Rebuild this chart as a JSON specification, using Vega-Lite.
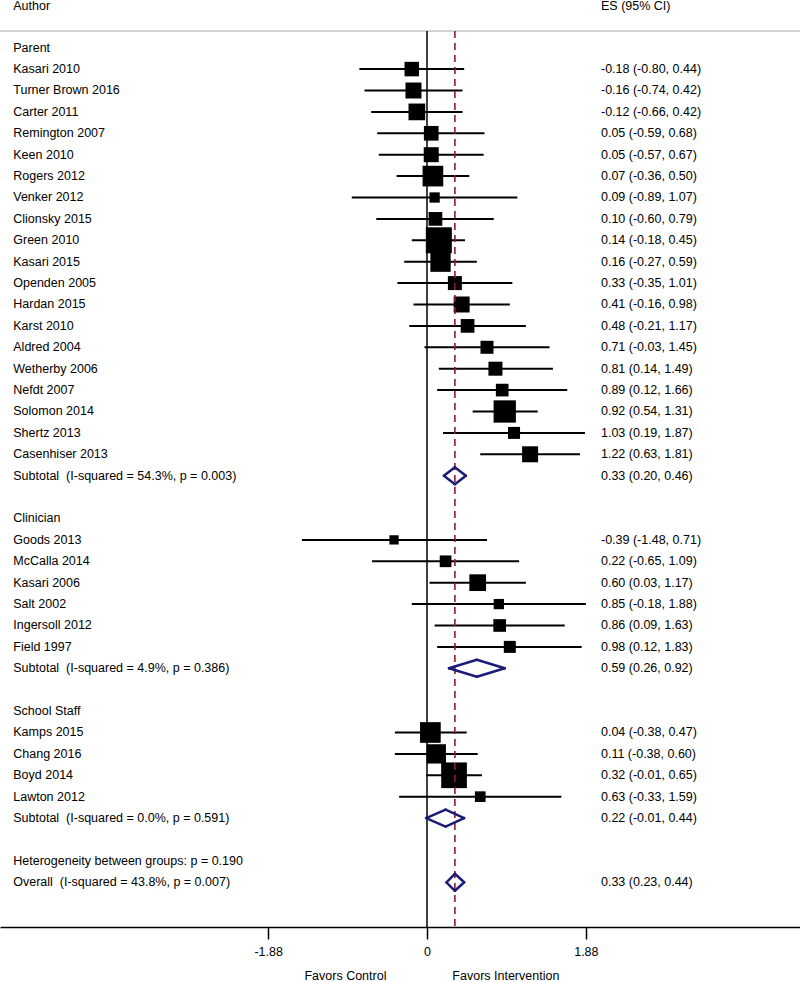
{
  "$schema": "https://vega.github.io/schema/vega-lite/v6.json",
  "width": 800,
  "height": 927,
  "autosize": {"type": "none"},
  "padding": {"left": 0, "top": 0, "right": 0, "bottom": 55},
  "background": "white",
  "config": {"view": {"stroke": null}},
  "resolve": {"axis": {"x": "independent", "y": "independent"}},
  "data": {
    "values": [
      {"row": -1.94, "type": "header", "label": "Author", "ci": "ES (95% CI)"},
      {"row": 0, "type": "group", "label": "Parent"},
      {"row": 1, "type": "study", "label": "Kasari 2010", "es": -0.18, "lo": -0.80, "hi": 0.44, "weight": 2.78, "ci": "-0.18 (-0.80, 0.44)"},
      {"row": 2, "type": "study", "label": "Turner Brown 2016", "es": -0.16, "lo": -0.74, "hi": 0.42, "weight": 3.39, "ci": "-0.16 (-0.74, 0.42)"},
      {"row": 3, "type": "study", "label": "Carter 2011", "es": -0.12, "lo": -0.66, "hi": 0.42, "weight": 3.70, "ci": "-0.12 (-0.66, 0.42)"},
      {"row": 4, "type": "study", "label": "Remington 2007", "es": 0.05, "lo": -0.59, "hi": 0.68, "weight": 2.86, "ci": "0.05 (-0.59, 0.68)"},
      {"row": 5, "type": "study", "label": "Keen 2010", "es": 0.05, "lo": -0.57, "hi": 0.67, "weight": 2.98, "ci": "0.05 (-0.57, 0.67)"},
      {"row": 6, "type": "study", "label": "Rogers 2012", "es": 0.07, "lo": -0.36, "hi": 0.50, "weight": 5.67, "ci": "0.07 (-0.36, 0.50)"},
      {"row": 7, "type": "study", "label": "Venker 2012", "es": 0.09, "lo": -0.89, "hi": 1.07, "weight": 1.40, "ci": "0.09 (-0.89, 1.07)"},
      {"row": 8, "type": "study", "label": "Clionsky 2015", "es": 0.10, "lo": -0.60, "hi": 0.79, "weight": 2.49, "ci": "0.10 (-0.60, 0.79)"},
      {"row": 9, "type": "study", "label": "Green 2010", "es": 0.14, "lo": -0.18, "hi": 0.45, "weight": 8.96, "ci": "0.14 (-0.18, 0.45)"},
      {"row": 10, "type": "study", "label": "Kasari 2015", "es": 0.16, "lo": -0.27, "hi": 0.59, "weight": 5.46, "ci": "0.16 (-0.27, 0.59)"},
      {"row": 11, "type": "study", "label": "Openden 2005", "es": 0.33, "lo": -0.35, "hi": 1.01, "weight": 2.60, "ci": "0.33 (-0.35, 1.01)"},
      {"row": 12, "type": "study", "label": "Hardan 2015", "es": 0.41, "lo": -0.16, "hi": 0.98, "weight": 3.39, "ci": "0.41 (-0.16, 0.98)"},
      {"row": 13, "type": "study", "label": "Karst 2010", "es": 0.48, "lo": -0.21, "hi": 1.17, "weight": 2.49, "ci": "0.48 (-0.21, 1.17)"},
      {"row": 14, "type": "study", "label": "Aldred 2004", "es": 0.71, "lo": -0.03, "hi": 1.45, "weight": 2.24, "ci": "0.71 (-0.03, 1.45)"},
      {"row": 15, "type": "study", "label": "Wetherby 2006", "es": 0.81, "lo": 0.14, "hi": 1.49, "weight": 2.60, "ci": "0.81 (0.14, 1.49)"},
      {"row": 16, "type": "study", "label": "Nefdt 2007", "es": 0.89, "lo": 0.12, "hi": 1.66, "weight": 2.13, "ci": "0.89 (0.12, 1.66)"},
      {"row": 17, "type": "study", "label": "Solomon 2014", "es": 0.92, "lo": 0.54, "hi": 1.31, "weight": 6.59, "ci": "0.92 (0.54, 1.31)"},
      {"row": 18, "type": "study", "label": "Shertz 2013", "es": 1.03, "lo": 0.19, "hi": 1.87, "weight": 1.91, "ci": "1.03 (0.19, 1.87)"},
      {"row": 19, "type": "study", "label": "Casenhiser 2013", "es": 1.22, "lo": 0.63, "hi": 1.81, "weight": 3.39, "ci": "1.22 (0.63, 1.81)"},
      {"row": 20, "type": "subtotal", "label": "Subtotal\u00a0 (I-squared = 54.3%, p = 0.003)", "es": 0.33, "lo": 0.20, "hi": 0.46, "ci": "0.33 (0.20, 0.46)"},
      {"row": 22, "type": "group", "label": "Clinician"},
      {"row": 23, "type": "study", "label": "Goods 2013", "es": -0.39, "lo": -1.48, "hi": 0.71, "weight": 1.14, "ci": "-0.39 (-1.48, 0.71)"},
      {"row": 24, "type": "study", "label": "McCalla 2014", "es": 0.22, "lo": -0.65, "hi": 1.09, "weight": 1.82, "ci": "0.22 (-0.65, 1.09)"},
      {"row": 25, "type": "study", "label": "Kasari 2006", "es": 0.60, "lo": 0.03, "hi": 1.17, "weight": 3.70, "ci": "0.60 (0.03, 1.17)"},
      {"row": 26, "type": "study", "label": "Salt 2002", "es": 0.85, "lo": -0.18, "hi": 1.88, "weight": 1.40, "ci": "0.85 (-0.18, 1.88)"},
      {"row": 27, "type": "study", "label": "Ingersoll 2012", "es": 0.86, "lo": 0.09, "hi": 1.63, "weight": 2.13, "ci": "0.86 (0.09, 1.63)"},
      {"row": 28, "type": "study", "label": "Field 1997", "es": 0.98, "lo": 0.12, "hi": 1.83, "weight": 1.91, "ci": "0.98 (0.12, 1.83)"},
      {"row": 29, "type": "subtotal", "label": "Subtotal\u00a0 (I-squared = 4.9%, p = 0.386)", "es": 0.59, "lo": 0.26, "hi": 0.92, "ci": "0.59 (0.26, 0.92)"},
      {"row": 31, "type": "group", "label": "School Staff"},
      {"row": 32, "type": "study", "label": "Kamps 2015", "es": 0.04, "lo": -0.38, "hi": 0.47, "weight": 5.67, "ci": "0.04 (-0.38, 0.47)"},
      {"row": 33, "type": "study", "label": "Chang 2016", "es": 0.11, "lo": -0.38, "hi": 0.60, "weight": 4.93, "ci": "0.11 (-0.38, 0.60)"},
      {"row": 34, "type": "study", "label": "Boyd 2014", "es": 0.32, "lo": -0.01, "hi": 0.65, "weight": 8.75, "ci": "0.32 (-0.01, 0.65)"},
      {"row": 35, "type": "study", "label": "Lawton 2012", "es": 0.63, "lo": -0.33, "hi": 1.59, "weight": 1.51, "ci": "0.63 (-0.33, 1.59)"},
      {"row": 36, "type": "subtotal", "label": "Subtotal\u00a0 (I-squared = 0.0%, p = 0.591)", "es": 0.22, "lo": -0.01, "hi": 0.44, "ci": "0.22 (-0.01, 0.44)"},
      {"row": 38, "type": "note", "label": "Heterogeneity between groups: p = 0.190"},
      {"row": 39, "type": "overall", "label": "Overall\u00a0 (I-squared = 43.8%, p = 0.007)", "es": 0.33, "lo": 0.23, "hi": 0.44, "ci": "0.33 (0.23, 0.44)"}
    ]
  },
  "layer": [
    {
      "transform": [{"filter": "datum.type == 'study'"}],
      "mark": {"type": "rule", "color": "black", "strokeWidth": 2},
      "encoding": {
        "x": {
          "field": "lo", "type": "quantitative",
          "scale": {"domain": [-5.053, 4.414], "nice": false, "zero": false},
          "axis": {
            "values": [-1.88, 0, 1.88],
            "labelExpr": "toString(datum.value)",
            "grid": false,
            "domainColor": "black", "domainWidth": 1.5,
            "tickColor": "black", "tickWidth": 1.5, "tickSize": 12,
            "labelPadding": 6, "labelFont": "Liberation Sans", "labelFontSize": 12.5,
            "labelColor": "black", "title": null
          }
        },
        "x2": {"field": "hi"},
        "y": {
          "field": "row", "type": "quantitative", "axis": null,
          "scale": {"domain": [-2.229, 41.09], "reverse": true, "nice": false, "zero": false}
        }
      }
    },
    {
      "data": {"values": [{}]},
      "mark": {"type": "rule", "color": "#a8a8a8", "strokeWidth": 1.2},
      "encoding": {"y": {"datum": -0.78, "type": "quantitative", "axis": null}}
    },
    {
      "data": {"values": [{}]},
      "mark": {"type": "rule", "color": "black", "strokeWidth": 1.5},
      "encoding": {
        "x": {"datum": 0, "type": "quantitative", "axis": null},
        "y": {"datum": -0.78, "type": "quantitative", "axis": null},
        "y2": {"datum": 41.09}
      }
    },
    {
      "transform": [{"filter": "datum.type == 'study'"}],
      "mark": {"type": "square", "color": "black", "filled": true, "opacity": 1},
      "encoding": {
        "x": {"field": "es", "type": "quantitative", "axis": null},
        "y": {"field": "row", "type": "quantitative", "axis": null},
        "size": {"field": "weight", "type": "quantitative", "legend": null, "scale": {"domain": [0, 10], "range": [0, 754.6]}}
      }
    },
    {
      "transform": [{"filter": "datum.type == 'overall'"}],
      "mark": {"type": "rule", "color": "#8b1c2c", "strokeWidth": 1.6, "strokeDash": [7, 5]},
      "encoding": {
        "x": {"field": "es", "type": "quantitative", "axis": null},
        "y": {"datum": -0.78, "type": "quantitative", "axis": null},
        "y2": {"datum": 41.09}
      }
    },
    {
      "transform": [{"filter": "datum.type == 'subtotal' || datum.type == 'overall'"}],
      "mark": {"type": "rule", "color": "#1c1c78", "strokeWidth": 2.5, "strokeCap": "round", "y2Offset": -8.5},
      "encoding": {
        "x": {"field": "lo", "type": "quantitative", "axis": null},
        "x2": {"field": "es"},
        "y": {"field": "row", "type": "quantitative", "axis": null},
        "y2": {"field": "row"}
      }
    },
    {
      "transform": [{"filter": "datum.type == 'subtotal' || datum.type == 'overall'"}],
      "mark": {"type": "rule", "color": "#1c1c78", "strokeWidth": 2.5, "strokeCap": "round", "y2Offset": 8.5},
      "encoding": {
        "x": {"field": "lo", "type": "quantitative", "axis": null},
        "x2": {"field": "es"},
        "y": {"field": "row", "type": "quantitative", "axis": null},
        "y2": {"field": "row"}
      }
    },
    {
      "transform": [{"filter": "datum.type == 'subtotal' || datum.type == 'overall'"}],
      "mark": {"type": "rule", "color": "#1c1c78", "strokeWidth": 2.5, "strokeCap": "round", "yOffset": -8.5},
      "encoding": {
        "x": {"field": "es", "type": "quantitative", "axis": null},
        "x2": {"field": "hi"},
        "y": {"field": "row", "type": "quantitative", "axis": null},
        "y2": {"field": "row"}
      }
    },
    {
      "transform": [{"filter": "datum.type == 'subtotal' || datum.type == 'overall'"}],
      "mark": {"type": "rule", "color": "#1c1c78", "strokeWidth": 2.5, "strokeCap": "round", "yOffset": 8.5},
      "encoding": {
        "x": {"field": "es", "type": "quantitative", "axis": null},
        "x2": {"field": "hi"},
        "y": {"field": "row", "type": "quantitative", "axis": null},
        "y2": {"field": "row"}
      }
    },
    {
      "transform": [{"filter": "isValid(datum.label)"}],
      "mark": {"type": "text", "align": "left", "baseline": "middle", "font": "Liberation Sans", "fontSize": 12.5, "color": "black"},
      "encoding": {
        "x": {"datum": -4.896, "type": "quantitative", "axis": null},
        "y": {"field": "row", "type": "quantitative", "axis": null},
        "text": {"field": "label"}
      }
    },
    {
      "transform": [{"filter": "isValid(datum.ci)"}],
      "mark": {"type": "text", "align": "left", "baseline": "middle", "font": "Liberation Sans", "fontSize": 12.5, "color": "black"},
      "encoding": {
        "x": {"datum": 2.059, "type": "quantitative", "axis": null},
        "y": {"field": "row", "type": "quantitative", "axis": null},
        "text": {"field": "ci"}
      }
    },
    {
      "data": {"values": [{"t": "Favors Control"}]},
      "mark": {"type": "text", "align": "right", "baseline": "middle", "font": "Liberation Sans", "fontSize": 12.5, "color": "black"},
      "encoding": {
        "x": {"datum": -0.48, "type": "quantitative", "axis": null},
        "y": {"datum": 43.38, "type": "quantitative", "axis": null},
        "text": {"field": "t"}
      }
    },
    {
      "data": {"values": [{"t": "Favors Intervention"}]},
      "mark": {"type": "text", "align": "left", "baseline": "middle", "font": "Liberation Sans", "fontSize": 12.5, "color": "black"},
      "encoding": {
        "x": {"datum": 0.3, "type": "quantitative", "axis": null},
        "y": {"datum": 43.38, "type": "quantitative", "axis": null},
        "text": {"field": "t"}
      }
    }
  ]
}
